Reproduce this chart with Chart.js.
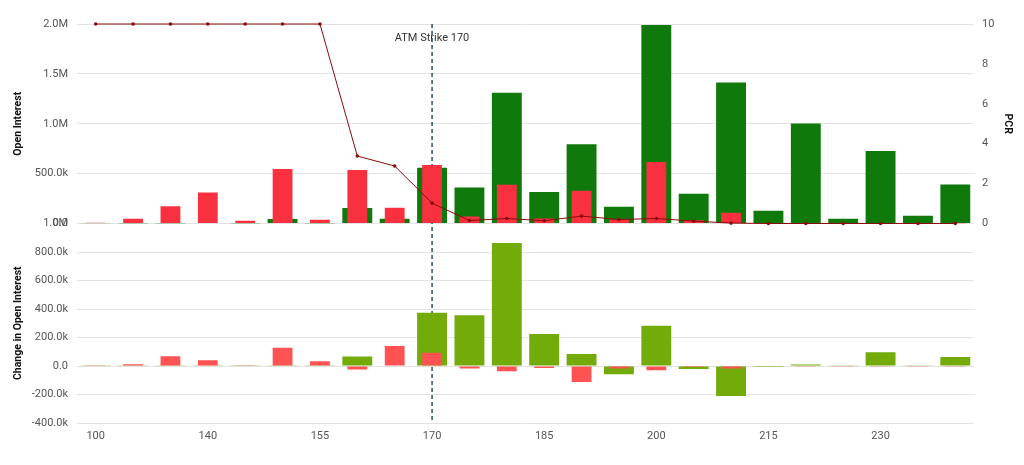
<!DOCTYPE html>
<html>
<head>
<meta charset="utf-8">
<script src="https://cdn.jsdelivr.net/npm/chart.js@4.4.1/dist/chart.umd.min.js"></script>
<style>
  html, body { margin: 0; padding: 0; background: #fff; }
  #wrap { width: 1024px; height: 465px; position: relative; }
</style>
</head>
<body>
<div id="wrap"><canvas id="oi-chart" width="1024" height="465"></canvas></div>
<script>
// Strikes (x categories)
var strikes = ['100', '120', '130', '140', '145', '150', '155', '160', '165', '170', '175', '180',
               '185', '190', '195', '200', '205', '210', '215', '220', '225', '230', '235', '240'];
var atmStrike = '170';

// Open interest
var callOI = [2000, 1000, 1000, 5000, 1000, 45000, 1000, 155000, 48000, 560000, 362000, 1310000,
              315000, 794000, 168000, 1990000, 298000, 1414000, 127000, 1002000, 47000, 727000, 77000, 392000];
var putOI = [7000, 47000, 174000, 312000, 27000, 546000, 37000, 536000, 158000, 586000, 70000, 389000,
             50000, 328000, 40000, 616000, 33000, 107000, 2000, 1000, 1000, 1000, 1000, 1000];

// Put call ratio
var pcr = [10, 10, 10, 10, 10, 10, 10, 3.38, 2.88, 1.02, 0.15, 0.25,
           0.14, 0.37, 0.2, 0.25, 0.12, 0.02, 0, 0, 0, 0, 0, 0];

// Change in open interest
var callChg = [1000, 1000, 1000, 1000, 1000, 2000, 1000, 66000, 3000, 374000, 357000, 864000,
               224000, 84000, -58000, 283000, -21000, -210000, -7000, 10000, 6000, 96000, 6000, 63000];
var putChg = [2000, 12000, 68000, 40000, 2000, 128000, 33000, -25000, 140000, 93000, -18000, -37000,
              -14000, -112000, -18000, -30000, -7000, -18000, -3000, -2000, -2000, -2000, -2000, -2000];

var FONT = 'Roboto, "Noto Sans", sans-serif';
var TICK_COLOR = '#555';
var GRID_COLOR = '#e3e3e3';

// Format numbers like 500.0k / 1.5M
function fmtShort(v) {
    var a = Math.abs(v);
    if (a >= 1e6) return (v / 1e6).toFixed(1) + 'M';
    if (a >= 1e3) return (v / 1e3).toFixed(1) + 'k';
    return v.toFixed(1);
}

// Dashed ATM strike marker, drawn under the bars
var atmLine = {
    id: 'atmLine',
    beforeDatasetsDraw: function(chart) {
        var ctx = chart.ctx;
        var area = chart.chartArea;
        var x = chart.scales.x.getPixelForValue(strikes.indexOf(atmStrike));

        ctx.save();
        ctx.font = '11px ' + FONT;
        ctx.fillStyle = '#333';
        ctx.textAlign = 'center';
        ctx.textBaseline = 'middle';
        ctx.fillText('ATM Strike ' + atmStrike, x, area.top + 14);

        ctx.strokeStyle = '#2f4d68';
        ctx.lineWidth = 1.5;
        ctx.setLineDash([4, 3]);
        ctx.beginPath();
        ctx.moveTo(x, area.top);
        ctx.lineTo(x, area.bottom);
        ctx.stroke();
        ctx.restore();
    }
};

var chartData = {
    labels: strikes,
    datasets: [
        {
            type: 'line',
            label: 'PCR',
            data: pcr,
            yAxisID: 'yPCR',
            borderColor: '#8b0a0a',
            backgroundColor: '#8b0a0a',
            borderWidth: 1,
            pointRadius: 1.8,
            pointBorderWidth: 0,
            tension: 0,
            clip: false,
            order: 0
        },
        {
            label: 'Put OI',
            data: putOI,
            yAxisID: 'yOI',
            backgroundColor: '#f83040',
            grouped: false,
            barPercentage: 0.53,
            categoryPercentage: 1,
            order: 1
        },
        {
            label: 'Call OI',
            data: callOI,
            yAxisID: 'yOI',
            backgroundColor: '#0f7a0b',
            grouped: false,
            barPercentage: 0.8,
            categoryPercentage: 1,
            order: 2
        },
        {
            label: 'Put Change',
            data: putChg,
            yAxisID: 'yChg',
            backgroundColor: '#ff5252',
            grouped: false,
            barPercentage: 0.53,
            categoryPercentage: 1,
            order: 1
        },
        {
            label: 'Call Change',
            data: callChg,
            yAxisID: 'yChg',
            backgroundColor: '#72ab0a',
            grouped: false,
            barPercentage: 0.8,
            categoryPercentage: 1,
            order: 2
        }
    ]
};

var tickFont = { family: FONT, size: 11 };
var titleFont = { family: FONT, size: 10.5, weight: 'bold' };

new Chart(document.getElementById('oi-chart'), {
    type: 'bar',
    data: chartData,
    plugins: [atmLine],
    options: {
        responsive: false,
        animation: false,
        layout: { padding: { left: 0, right: 0, top: 24, bottom: 0 } },
        plugins: {
            legend: { display: false },
            tooltip: { enabled: false }
        },
        scales: {
            x: {
                type: 'category',
                grid: { display: false, drawTicks: false },
                border: { display: false },
                ticks: {
                    font: tickFont,
                    color: TICK_COLOR,
                    padding: 7,
                    autoSkip: false,
                    maxRotation: 0,
                    callback: function(value, index) {
                        return index % 3 === 0 ? strikes[index] : null;
                    }
                },
                afterFit: function(scale) { scale.height = 42; }
            },
            yChg: {
                position: 'left',
                stack: 'left',
                stackWeight: 1,
                min: -400000,
                max: 1000000,
                grid: { color: GRID_COLOR, drawTicks: false },
                border: { display: false },
                ticks: {
                    stepSize: 200000,
                    autoSkip: false,
                    font: tickFont,
                    color: TICK_COLOR,
                    padding: 9,
                    callback: fmtShort
                },
                title: {
                    display: true,
                    text: 'Change in Open Interest',
                    font: titleFont,
                    color: '#111',
                    padding: { top: 12, bottom: 0 }
                },
                afterFit: function(scale) { scale.width = 77; }
            },
            yOI: {
                position: 'left',
                stack: 'left',
                stackWeight: 1,
                min: 0,
                max: 2000000,
                grid: { color: GRID_COLOR, drawTicks: false },
                border: { display: false },
                ticks: {
                    stepSize: 500000,
                    autoSkip: false,
                    font: tickFont,
                    color: TICK_COLOR,
                    padding: 9,
                    callback: fmtShort
                },
                title: {
                    display: true,
                    text: 'Open Interest',
                    font: titleFont,
                    color: '#111',
                    padding: { top: 12, bottom: 0 }
                },
                afterFit: function(scale) { scale.width = 77; }
            },
            yPCR: {
                position: 'right',
                stack: 'right',
                stackWeight: 1,
                min: 0,
                max: 10,
                grid: { display: false, drawTicks: false },
                border: { display: false },
                ticks: {
                    stepSize: 2,
                    autoSkip: false,
                    font: tickFont,
                    color: TICK_COLOR,
                    padding: 8
                },
                title: {
                    display: true,
                    text: 'PCR',
                    font: titleFont,
                    color: '#111',
                    padding: { top: 10, bottom: 0 }
                },
                afterFit: function(scale) { scale.width = 50; }
            },
            yPad: {
                position: 'right',
                stack: 'right',
                stackWeight: 1,
                display: false
            }
        }
    }
});
</script>
</body>
</html>
